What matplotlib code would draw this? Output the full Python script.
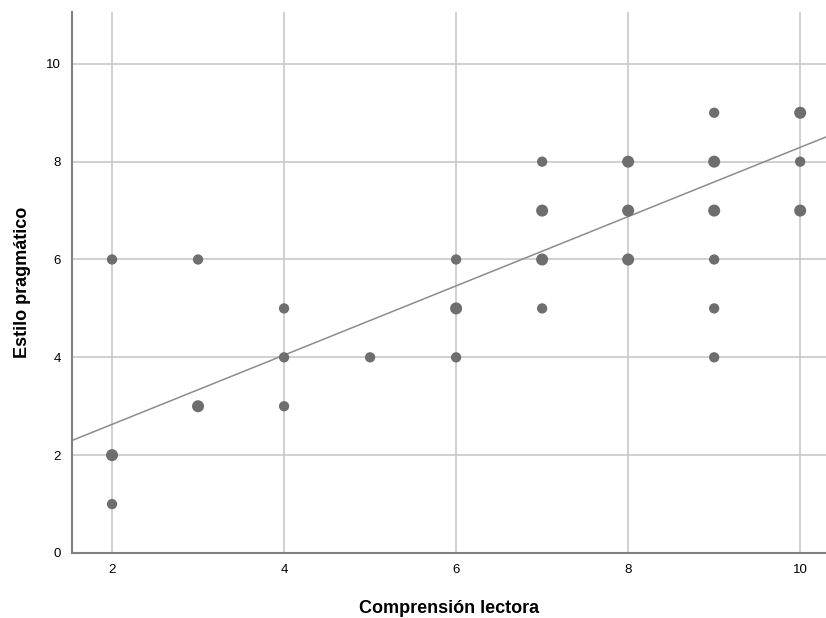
import numpy as np
import matplotlib.pyplot as plt

plt.rcParams['font.family'] = ['Liberation Sans', 'DejaVu Sans']

# Data (comprension, estilo), with rough overlap counts
comprension = [2, 2, 2, 3, 3, 4, 4, 4, 5, 6, 6, 6, 7, 7, 7, 7,
               8, 8, 8, 9, 9, 9, 9, 9, 9, 10, 10, 10]
estilo = [6, 2, 1, 6, 3, 5, 4, 3, 4, 6, 5, 4, 8, 7, 6, 5,
          8, 7, 6, 9, 8, 7, 6, 5, 4, 9, 8, 7]
repetidos = [1, 2, 1, 1, 2, 1, 1, 1, 1, 1, 2, 1, 1, 2, 2, 1,
             2, 2, 2, 1, 2, 2, 1, 1, 1, 2, 1, 2]

# Fit line as drawn in the chart
intercept = 1.213
slope = 0.708

fig = plt.figure(figsize=(8.26, 6.18), dpi=100)
ax = fig.add_axes([0.0872, 0.1052, 0.9128, 0.8754])

sizes = [55 if r == 1 else 75 for r in repetidos]
ax.scatter(comprension, estilo, s=sizes, color='#6e6e6e', zorder=3, linewidths=0)

xmin, xmax = 1.535, 10.3
xs = np.array([xmin, xmax])
ax.plot(xs, intercept + slope * xs, color='#8c8c8c', lw=1.1, zorder=2)

ax.set_xlim(xmin, xmax)
ax.set_ylim(0, 11.06)
ax.set_xticks([2, 4, 6, 8, 10])
ax.set_yticks([0, 2, 4, 6, 8, 10])
ax.grid(True, color='#c8c8c8', lw=1.2, zorder=0)
ax.set_axisbelow(True)
ax.tick_params(length=0, labelsize=9.5, pad=8)

for s in ['top', 'right']:
    ax.spines[s].set_visible(False)
for s in ['left', 'bottom']:
    ax.spines[s].set_color('#808080')
    ax.spines[s].set_linewidth(1.5)

ax.set_xlabel('Comprensión lectora', fontsize=13, fontweight='bold', labelpad=17)
ax.set_ylabel('Estilo pragmático', fontsize=13, fontweight='bold', labelpad=11)

fig.savefig('out.png', dpi=100)
